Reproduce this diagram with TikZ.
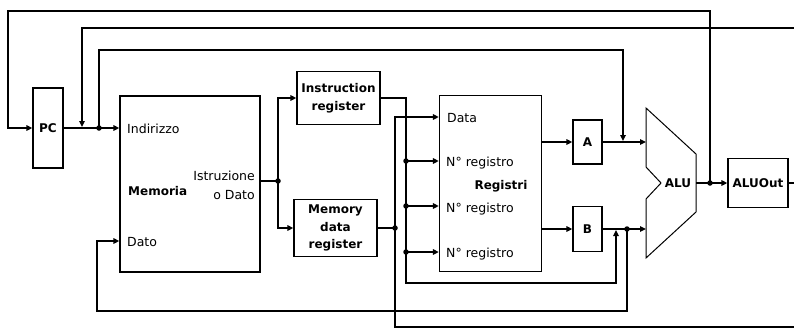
\documentclass[tikz,border=0pt]{standalone}
\usepackage{fontspec}
\setmainfont{DejaVu Sans}
\usetikzlibrary{arrows.meta}
\begin{document}
\begin{tikzpicture}[x=1pt,y=-1pt,
  wire/.style={line width=2pt},
  arr/.style={-{Triangle[length=6pt,width=5.5pt]}},
  box/.style={draw,line width=1.3pt,inner sep=0pt,rectangle,align=center,
    font=\fontsize{12}{17.5}\selectfont\bfseries},
  lbl/.style={inner sep=0pt,font=\fontsize{12.5}{15}\selectfont},
  blbl/.style={inner sep=0pt,font=\fontsize{12}{15}\selectfont\bfseries},
  dot/.style={circle,fill,inner sep=0pt,minimum size=5.5pt}]
\useasboundingbox (0,0) rectangle (794,335);
% boxes
\node[box,minimum width=30pt,minimum height=80pt] (PC) at (48,128) {PC};
\node[box,minimum width=140pt,minimum height=176pt] (Mem) at (190,184) {};
\node[box,minimum width=83pt,minimum height=53pt] (IR) at (338.5,98) {Instruction\\register};
\node[box,minimum width=83pt,minimum height=57pt] (MDR) at (335.5,228) {Memory\\data\\register};
\node[box,minimum width=102pt,minimum height=176pt] (Reg) at (490.5,183.5) {};
\node[box,minimum width=29pt,minimum height=44pt] (A) at (587.5,142) {A};
\node[box,minimum width=29pt,minimum height=45pt] (B) at (587.5,229) {B};
\node[box,minimum width=60pt,minimum height=49pt] (ALUOut) at (758,183) {ALUOut};
% ALU
\draw[line width=1pt] (646,108) -- (696,154) -- (696,212) -- (646,258) -- (646,199) -- (661,183) -- (646,167) -- cycle;
\node[blbl] (alu) at (678,183) {ALU};
\coordinate (aluA) at (646,142);
\coordinate (aluB) at (646,229);
\coordinate (aluO) at (696,183);
% labels
\node[lbl,anchor=base west] (lind) at (127,133) {Indirizzo};
\node[blbl,anchor=base west] (lmem) at (128,195) {Memoria};
\node[lbl,anchor=base east] (list) at (255,180) {Istruzione};
\node[lbl,anchor=base east] (lodato) at (255,199) {o Dato};
\node[lbl,anchor=base west] (ldato) at (127,246) {Dato};
\node[lbl,anchor=base west] (ldata) at (447,122) {Data};
\node[lbl,anchor=base west] (lr1) at (446,166) {N° registro};
\node[lbl,anchor=base west] (lr2) at (446,212) {N° registro};
\node[lbl,anchor=base west] (lr3) at (446,257) {N° registro};
\node[blbl,anchor=base] (lreg) at (501,189) {Registri};
% free ends
\coordinate (r28) at (794,28);
\coordinate (r327) at (794,327);
\coordinate (rout) at (794,183);
% junction dots
\node[dot] (d1) at (99,128) {};
\node[dot] (d2) at (278,181) {};
\node[dot] (d3) at (395,228) {};
\node[dot] (d4) at (627,229) {};
\node[dot] (d5) at (710,183) {};
\node[dot] (n1) at (406,161) {};
\node[dot] (n2) at (406,206) {};
\node[dot] (n3) at (406,252) {};
% wires
\draw[wire,arr] (PC.east) -- (Mem.west |- PC.east);
\draw[wire,arr] (r28) -- (82,28) -- (82,127);
\draw[wire,arr] (d1.center) -- (99,50) -- (623,50) -- (623,141);
\draw[wire,arr] (d5.center) -- (710,11) -- (8,11) -- (8,128) -- (PC.west);
\draw[wire] (Mem.east |- d2) -- (d2.center);
\draw[wire,arr] (d2.center) |- (IR.west);
\draw[wire,arr] (d2.center) |- (MDR.west);
\draw[wire,arr] (IR.east) -| (406,283) -- (616,283) -- (616,230);
\draw[wire,arr] (n1.center) -- (Reg.west |- n1);
\draw[wire,arr] (n2.center) -- (Reg.west |- n2);
\draw[wire,arr] (n3.center) -- (Reg.west |- n3);
\draw[wire] (MDR.east) -- (d3.center);
\draw[wire,arr] (r327) -- (395,327) -- (395,117) -- (Reg.west |- 0,117);
\draw[wire,arr] (Reg.east |- A.west) -- (A.west);
\draw[wire,arr] (Reg.east |- B.west) -- (B.west);
\draw[wire,arr] (A.east) -- (aluA);
\draw[wire,arr] (B.east) -- (aluB);
\draw[wire,arr] (d4.center) -- (627,311) -- (97,311) -- (97,241) -- (Mem.west |- 0,241);
\draw[wire,arr] (aluO) -- (ALUOut.west);
\draw[wire] (ALUOut.east) -- (rout);
\end{tikzpicture}
\end{document}
